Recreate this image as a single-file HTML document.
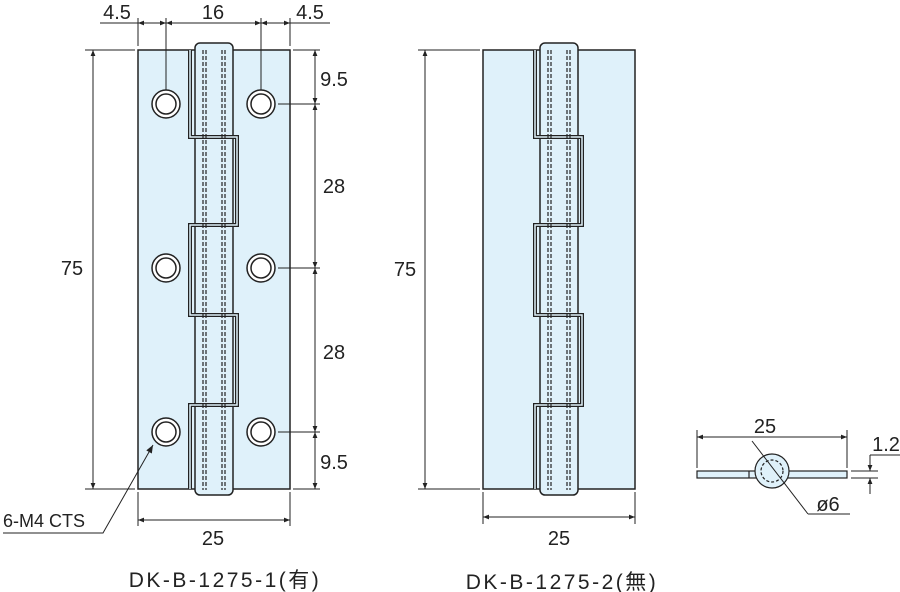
<!DOCTYPE html>
<html><head><meta charset="utf-8"><style>
html,body{margin:0;padding:0;background:#fff;}
svg{display:block;}
text{font-family:"Liberation Sans","Noto Sans CJK JP",sans-serif;fill:#222;}
</style></head><body>
<svg width="900" height="592" viewBox="0 0 900 592" xmlns="http://www.w3.org/2000/svg">
<defs>
<marker id="a" viewBox="0 0 10 10" refX="10" refY="5" markerWidth="8" markerHeight="6" orient="auto-start-reverse"><path d="M0,1 L10,5 L0,9 z" fill="#222"/></marker>
<marker id="b" viewBox="0 0 10 10" refX="10" refY="5" markerWidth="14" markerHeight="8" orient="auto"><path d="M0,1 L10,5 L0,9 z" fill="#222"/></marker>
<g id="hinge">
  <rect x="0" y="50" width="152" height="439" fill="#dff1fa" stroke="#222" stroke-width="1.5"/>
  <rect x="57" y="43" width="38" height="452" rx="5" fill="#dff1fa" stroke="#222" stroke-width="1.5"/>
  <polyline points="52,50 52,137 99,137 99,225 52,225 52,315 99,315 99,405 52,405 52,489" fill="none" stroke="#222" stroke-width="4"/>
  <polyline points="52,50 52,137 99,137 99,225 52,225 52,315 99,315 99,405 52,405 52,489" fill="none" stroke="#dff1fa" stroke-width="1.5"/>
  <g stroke="#222" stroke-width="1.2" stroke-dasharray="4,2">
    <line x1="65" y1="50" x2="65" y2="490"/><line x1="68" y1="50" x2="68" y2="490"/>
    <line x1="84" y1="50" x2="84" y2="490"/><line x1="87" y1="50" x2="87" y2="490"/>
  </g>
</g>
<g id="holes" fill="#fff" stroke="#222" stroke-width="1.5">
  <circle cx="0" cy="0" r="14"/><circle cx="0" cy="0" r="10"/>
</g>
</defs>

<use href="#hinge" x="138"/>
<use href="#holes" x="166" y="104"/><use href="#holes" x="261" y="104"/>
<use href="#holes" x="166" y="268"/><use href="#holes" x="261" y="268"/>
<use href="#holes" x="166" y="432"/><use href="#holes" x="261" y="432"/>

<g stroke="#222" stroke-width="1" fill="none">
  <line x1="138" y1="18" x2="138" y2="46"/><line x1="290" y1="18" x2="290" y2="46"/>
  <line x1="166" y1="18" x2="166" y2="90"/><line x1="261" y1="18" x2="261" y2="90"/>
  <line x1="100" y1="23" x2="138" y2="23"/><line x1="290" y1="23" x2="330" y2="23"/>
  <line x1="138" y1="23" x2="166" y2="23" marker-start="url(#a)" marker-end="url(#a)"/>
  <line x1="166" y1="23" x2="261" y2="23" marker-start="url(#a)" marker-end="url(#a)"/>
  <line x1="261" y1="23" x2="290" y2="23" marker-start="url(#a)" marker-end="url(#a)"/>
  <line x1="85" y1="50" x2="135" y2="50"/><line x1="85" y1="489" x2="135" y2="489"/>
  <line x1="93" y1="50" x2="93" y2="489" marker-start="url(#a)" marker-end="url(#a)"/>
  <line x1="293" y1="50" x2="320" y2="50"/><line x1="293" y1="489" x2="320" y2="489"/>
  <line x1="278" y1="104" x2="320" y2="104"/><line x1="278" y1="268" x2="320" y2="268"/><line x1="278" y1="432" x2="320" y2="432"/>
  <line x1="315" y1="50" x2="315" y2="104" marker-start="url(#a)" marker-end="url(#a)"/>
  <line x1="315" y1="104" x2="315" y2="268" marker-start="url(#a)" marker-end="url(#a)"/>
  <line x1="315" y1="268" x2="315" y2="432" marker-start="url(#a)" marker-end="url(#a)"/>
  <line x1="315" y1="432" x2="315" y2="489" marker-start="url(#a)" marker-end="url(#a)"/>
  <line x1="138" y1="492" x2="138" y2="526"/><line x1="290" y1="492" x2="290" y2="526"/>
  <line x1="138" y1="520" x2="290" y2="520" marker-start="url(#a)" marker-end="url(#a)"/>
  <polyline points="3,533 103,533 153,445" marker-end="url(#b)"/>
</g>
<g font-size="20">
<text x="117" y="19" text-anchor="middle">4.5</text>
<text x="213" y="19" text-anchor="middle">16</text>
<text x="310" y="19" text-anchor="middle">4.5</text>
<text x="72" y="275" text-anchor="middle">75</text>
<text x="334" y="86" text-anchor="middle">9.5</text>
<text x="334" y="193" text-anchor="middle">28</text>
<text x="334" y="359" text-anchor="middle">28</text>
<text x="334" y="469" text-anchor="middle">9.5</text>
<text x="213" y="545" text-anchor="middle">25</text>
<text x="3" y="527" font-size="18">6-M4 CTS</text>
</g>
<text x="225" y="587" font-size="21" letter-spacing="2.5" text-anchor="middle">DK-B-1275-1(有)</text>

<use href="#hinge" x="483"/>
<g stroke="#222" stroke-width="1" fill="none">
  <line x1="418" y1="50" x2="480" y2="50"/><line x1="418" y1="489" x2="480" y2="489"/>
  <line x1="425" y1="50" x2="425" y2="489" marker-start="url(#a)" marker-end="url(#a)"/>
  <line x1="483" y1="492" x2="483" y2="524"/><line x1="635" y1="492" x2="635" y2="524"/>
  <line x1="483" y1="517" x2="635" y2="517" marker-start="url(#a)" marker-end="url(#a)"/>
</g>
<text x="405" y="276" font-size="20" text-anchor="middle">75</text>
<text x="559" y="545" font-size="20" text-anchor="middle">25</text>
<text x="562" y="589" font-size="21" letter-spacing="2.5" text-anchor="middle">DK-B-1275-2(無)</text>

<g stroke="#222" stroke-width="1.2">
  <rect x="697" y="471" width="150" height="7" fill="#dff1fa"/>
  <line x1="749" y1="471" x2="749" y2="478"/>
  <circle cx="772" cy="471" r="17" fill="#dff1fa"/>
  <circle cx="772" cy="471" r="11" fill="none" stroke-dasharray="3,2"/>
</g>
<g stroke="#222" stroke-width="1" fill="none">
  <line x1="697" y1="430" x2="697" y2="468"/><line x1="847" y1="430" x2="847" y2="468"/>
  <line x1="697" y1="437" x2="847" y2="437" marker-start="url(#a)" marker-end="url(#a)"/>
  <line x1="752" y1="441" x2="808" y2="514"/>
  <line x1="808" y1="514" x2="850" y2="514"/>
  <line x1="851" y1="471" x2="878" y2="471"/><line x1="851" y1="478" x2="878" y2="478"/>
  <line x1="870" y1="455" x2="870" y2="471" marker-end="url(#a)"/>
  <line x1="870" y1="494" x2="870" y2="478" marker-end="url(#a)"/>
  <line x1="870" y1="455" x2="900" y2="455"/>
</g>
<text x="765" y="433" font-size="20" text-anchor="middle">25</text>
<text x="886" y="451" font-size="20" text-anchor="middle">1.2</text>
<text x="828" y="511" font-size="20" text-anchor="middle">ø6</text>
</svg>
</body></html>
